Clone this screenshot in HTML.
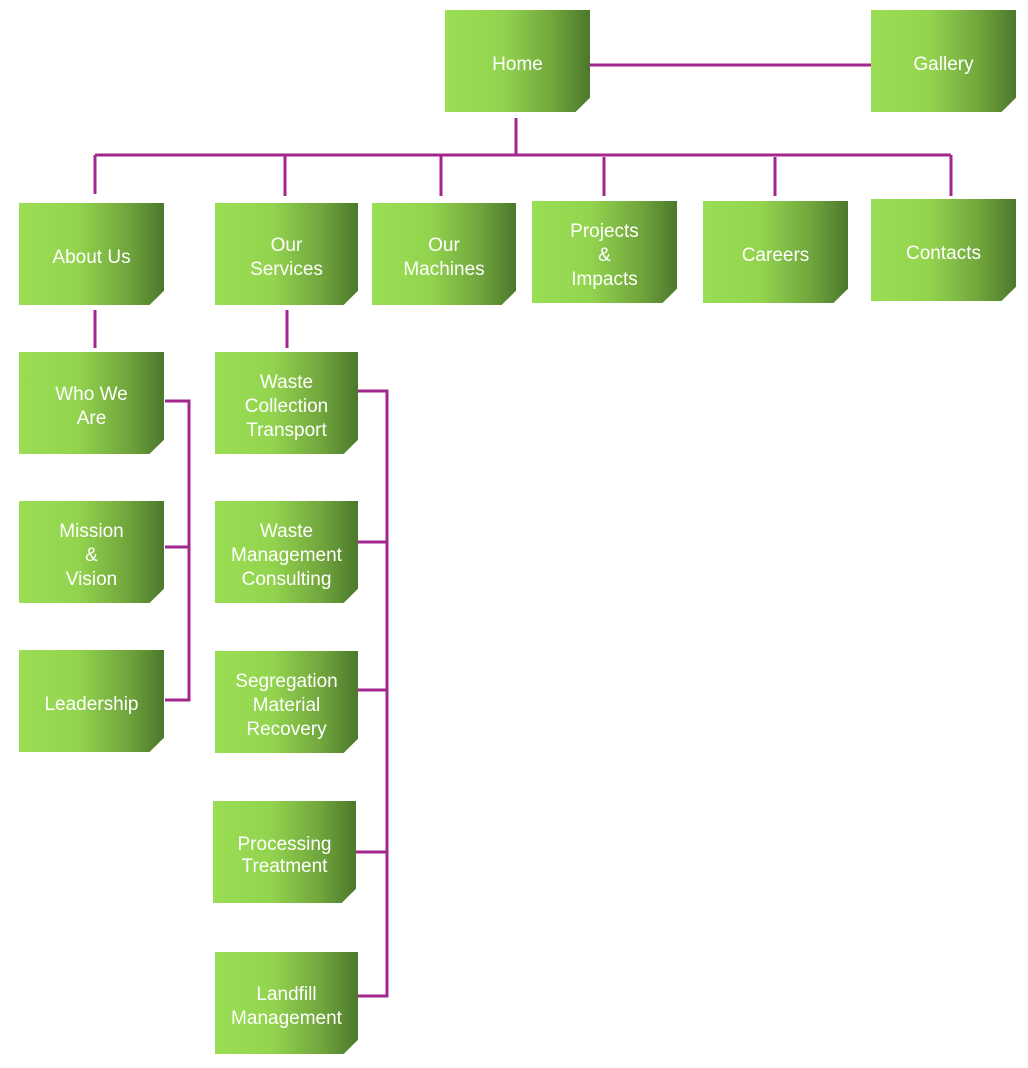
<!DOCTYPE html>
<html><head><meta charset="utf-8"><style>
body{margin:0;width:1028px;height:1068px;background:#fff;position:relative;overflow:hidden;font-family:"Liberation Sans",sans-serif}
.b{position:absolute;box-sizing:border-box;padding-top:8px;width:145px;height:102px;background:linear-gradient(to right,#9ade55 0%,#93d44f 40%,#70a53c 75%,#4c782c 100%);color:#fff;font-size:19px;line-height:24px;display:flex;align-items:center;justify-content:center;text-align:center;clip-path:polygon(0 0,100% 0,100% 86%,90% 100%,0 100%)}
.b::after{content:"";position:absolute;right:0;bottom:0;width:14px;height:14px;background:linear-gradient(135deg,transparent 50%,#f4f8ee 50%,#dfe9d2 70%,#fff 71%)}
svg{position:absolute;left:0;top:0}
</style></head><body>
<svg width="1028" height="1068">
<g stroke="#a3268e" stroke-width="3" fill="none">
<path d="M590 65H871M516 118V155M95 155H951M95 155V194M285 155V196M441 155V196M604 157V196M775 157V196M951 155V196"/>
<path d="M95 310V348M287 310V348"/>
<path d="M165 401H189V700H165M165 547H189"/>
<path d="M358 391H387V996H358M358 542H387M358 690H387M356 852H387"/>
</g>
</svg>
<div class="b" style="left:445px;top:10px">Home</div>
<div class="b" style="left:871px;top:10px">Gallery</div>
<div class="b" style="left:19px;top:203px">About Us</div>
<div class="b" style="left:215px;top:203px;width:143px">Our<br>Services</div>
<div class="b" style="left:372px;top:203px;width:144px">Our<br>Machines</div>
<div class="b" style="left:532px;top:201px">Projects<br>&amp;<br>Impacts</div>
<div class="b" style="left:703px;top:201px">Careers</div>
<div class="b" style="left:871px;top:199px">Contacts</div>
<div class="b" style="left:19px;top:352px">Who We<br>Are</div>
<div class="b" style="left:19px;top:501px">Mission<br>&amp;<br>Vision</div>
<div class="b" style="left:19px;top:650px">Leadership</div>
<div class="b" style="left:215px;top:352px;width:143px">Waste<br>Collection<br>Transport</div>
<div class="b" style="left:215px;top:501px;width:143px">Waste<br>Management<br>Consulting</div>
<div class="b" style="left:215px;top:651px;width:143px">Segregation<br>Material<br>Recovery</div>
<div class="b" style="left:213px;top:801px;width:143px;line-height:22px">Processing<br>Treatment</div>
<div class="b" style="left:215px;top:952px;width:143px">Landfill<br>Management</div>
</body></html>
